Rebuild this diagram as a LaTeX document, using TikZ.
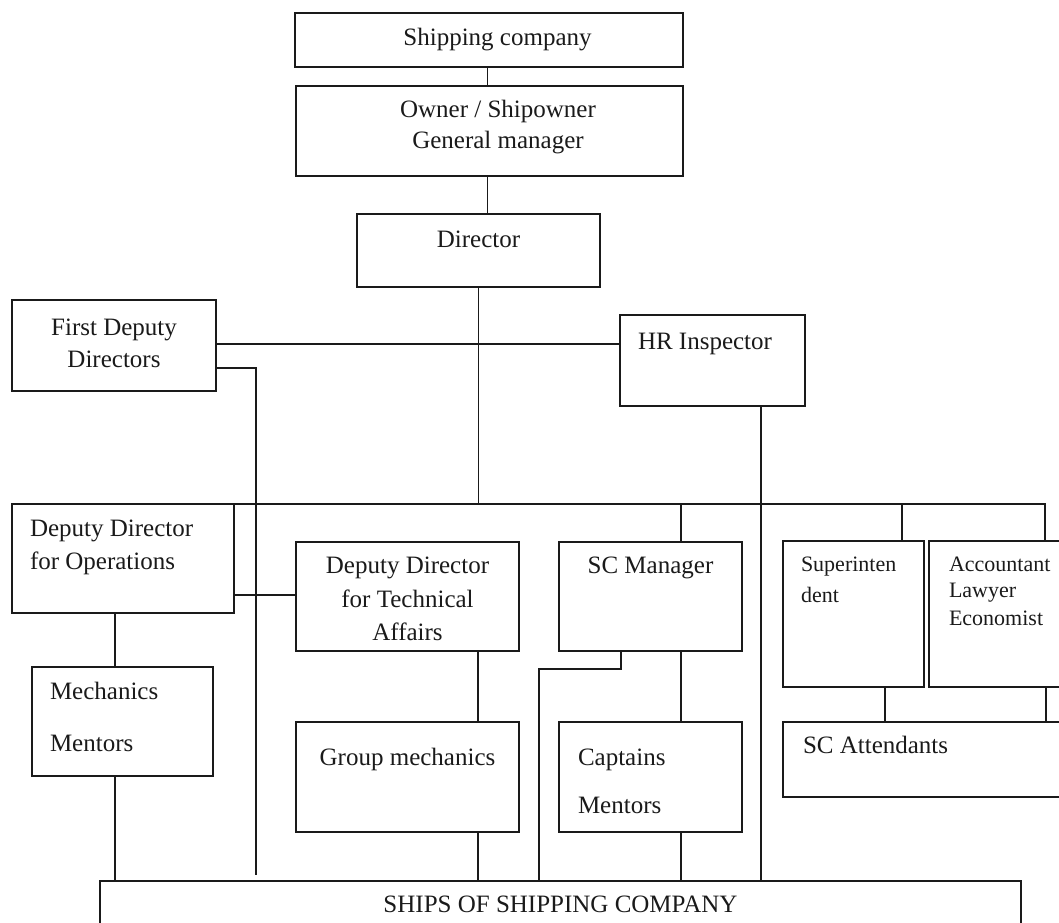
\documentclass[tikz,border=0pt]{standalone}
\usepackage{fontspec}
\setmainfont{Liberation Serif}
\definecolor{ink}{HTML}{1A1A1A}
\tikzset{
  boxst/.style={draw=ink, line width=2.6pt, rectangle, inner sep=0pt, outer sep=0pt},
  conn/.style={draw=ink, line width=1.6pt},
  connb/.style={draw=ink, line width=2.4pt},
  txt/.style={inner sep=0pt, outer sep=0pt, text=ink, font=\fontsize{25}{30}\selectfont},
  txts/.style={txt, font=\fontsize{22}{26}\selectfont}
}
\newcommand{\mkbox}[5]{\node[boxst,minimum width={(#4)-(#2)},minimum height={(#5)-(#3)}] (#1) at ({((#2)+(#4))/2},{-((#3)+(#5))/2}) {};}
\newcommand{\tl}[6]{\node[#1,anchor=#5] (#2) at (#3,-#4) {#6};}
\begin{document}
\begin{tikzpicture}[x=1pt,y=1pt]
\useasboundingbox (0,0) rectangle (1059,-922);
\clip (0,0) rectangle (1059,-922);
% boxes
\mkbox{ship}{295}{13}{683}{67}
\mkbox{owner}{296}{86}{683}{176}
\mkbox{dir}{357}{214}{600}{287}
\mkbox{fdd}{12}{300}{216}{391}
\mkbox{hr}{620}{315}{805}{406}
\mkbox{ops}{12}{504}{234}{613}
\mkbox{tech}{296}{542}{519}{651}
\mkbox{scm}{559}{542}{742}{651}
\mkbox{sup}{783}{541}{924}{687}
\mkbox{acc}{929}{541}{1090}{687}
\mkbox{mech}{32}{667}{213}{776}
\mkbox{grp}{296}{722}{519}{832}
\mkbox{cap}{559}{722}{742}{832}
\mkbox{att}{783}{722}{1090}{797}
\mkbox{ships}{100}{881}{1021}{960}
% helper coordinates
\coordinate (xTop) at (487.5,0);
\coordinate (busR) at (1045,-504);
\coordinate (yH) at (0,-344);
\coordinate (fddK) at (256,-368);
\coordinate (fddEnd) at (256,-875);
\coordinate (xHR) at (761,0);
\coordinate (xSCM) at (681,0);
\coordinate (xSup) at (902,0);
\coordinate (yOT) at (0,-595);
\coordinate (xMech) at (115,0);
\coordinate (xGrp) at (478,0);
\coordinate (xHookA) at (621,0);
\coordinate (hookA) at (621,-669);
\coordinate (hookB) at (539,-669);
\coordinate (xSupD) at (885,0);
\coordinate (xAccD) at (1046,0);
% connectors
\draw[conn] (ship.south -| xTop) -- (owner.north -| xTop);
\draw[conn] (owner.south -| xTop) -- (dir.north -| xTop);
\draw[conn] (dir.south) -- (dir.south |- busR);
\draw[conn] (ops.north east) -- (busR) -- (acc.north -| busR);
\draw[conn] (fdd.east |- yH) -- (hr.west |- yH);
\draw[conn] (fdd.east |- fddK) -- (fddK) -- (fddEnd);
\draw[conn] (hr.south -| xHR) -- (ships.north -| xHR);
\draw[conn] (busR -| xSCM) -- (scm.north -| xSCM);
\draw[conn] (busR -| xSup) -- (sup.north -| xSup);
\draw[connb] (ops.east |- yOT) -- (tech.west |- yOT);
\draw[conn] (ops.south -| xMech) -- (mech.north -| xMech);
\draw[conn] (mech.south -| xMech) -- (ships.north -| xMech);
\draw[connb] (tech.south -| xGrp) -- (grp.north -| xGrp);
\draw[connb] (grp.south -| xGrp) -- (ships.north -| xGrp);
\draw[conn] (scm.south -| xHookA) -- (hookA) -- (hookB) -- (ships.north -| hookB);
\draw[connb] (scm.south -| xSCM) -- (cap.north -| xSCM);
\draw[connb] (cap.south -| xSCM) -- (ships.north -| xSCM);
\draw[connb] (sup.south -| xSupD) -- (att.north -| xSupD);
\draw[connb] (acc.south -| xAccD) -- (att.north -| xAccD);
% texts
\tl{txt}{tShip}{497.5}{45}{base}{Shipping company}
\tl{txt}{tOwnA}{498}{117}{base}{Owner / Shipowner}
\tl{txt}{tOwnB}{498}{148}{base}{General manager}
\tl{txt}{tDir}{478.5}{247}{base}{Director}
\tl{txt}{tFddA}{114}{335}{base}{First Deputy}
\tl{txt}{tFddB}{114}{367}{base}{Directors}
\tl{txt}{tHR}{638}{349}{base west}{HR Inspector}
\tl{txt}{tOpsA}{30}{536}{base west}{Deputy Director}
\tl{txt}{tOpsB}{30}{569}{base west}{for Operations}
\tl{txt}{tTechA}{407.5}{573}{base}{Deputy Director}
\tl{txt}{tTechB}{407.5}{607}{base}{for Technical}
\tl{txt}{tTechC}{407.5}{640}{base}{Affairs}
\tl{txt}{tSCM}{650.5}{573}{base}{SC Manager}
\tl{txts}{tSupA}{801}{571}{base west}{Superinten}
\tl{txts}{tSupB}{801}{602}{base west}{dent}
\tl{txts}{tAccA}{949}{571}{base west}{Accountant}
\tl{txts}{tAccB}{949}{597}{base west}{Lawyer}
\tl{txts}{tAccC}{949}{625}{base west}{Economist}
\tl{txt}{tMechA}{50}{699}{base west}{Mechanics}
\tl{txt}{tMechB}{50}{751}{base west}{Mentors}
\tl{txt}{tGrp}{407.5}{765}{base}{Group mechanics}
\tl{txt}{tCapA}{578}{765}{base west}{Captains}
\tl{txt}{tCapB}{578}{813}{base west}{Mentors}
\tl{txt}{tAtt}{803}{753}{base west}{SC Attendants}
\tl{txt}{tShips}{560.5}{912}{base}{SHIPS OF SHIPPING COMPANY}
\end{tikzpicture}
\end{document}
